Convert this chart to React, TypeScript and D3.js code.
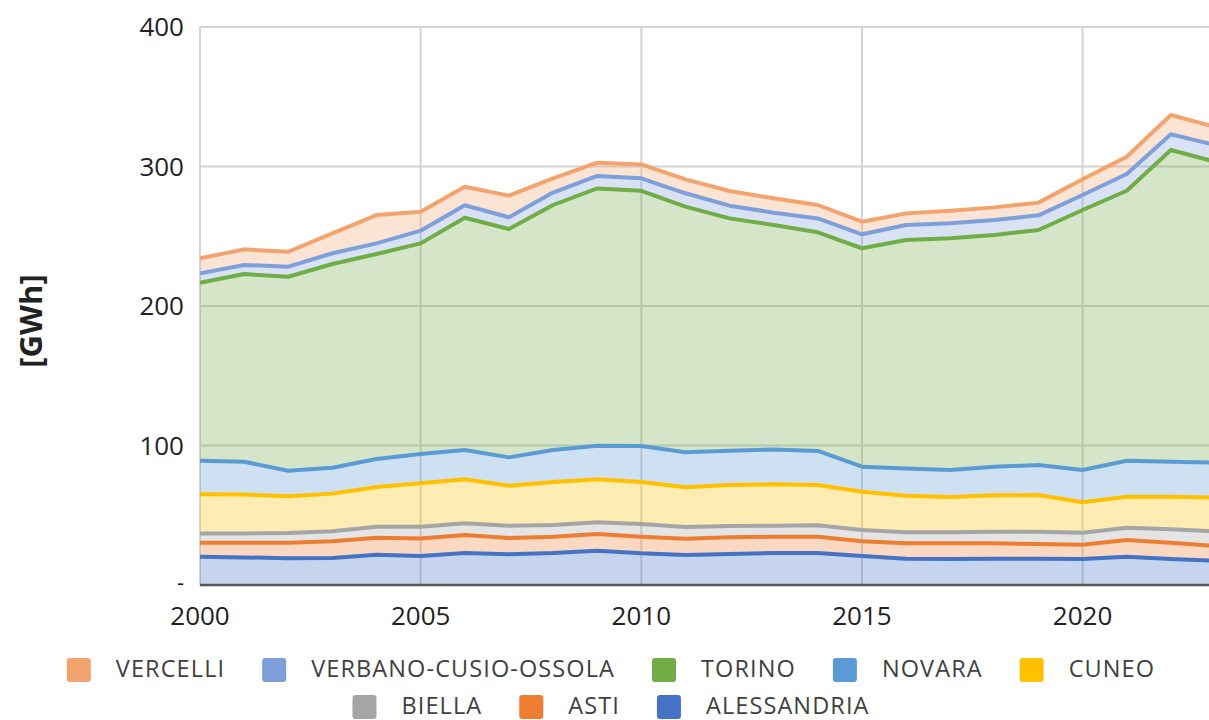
import React, { useEffect, useRef } from 'react';
import * as d3 from 'd3';

// values, GWh per province
const years = [2000, 2001, 2002, 2003, 2004, 2005, 2006, 2007, 2008, 2009, 2010, 2011,
  2012, 2013, 2014, 2015, 2016, 2017, 2018, 2019, 2020, 2021, 2022, 2023];

const alessandria = [20.3, 19.8, 19.1, 19.4, 21.7, 20.8, 22.9, 22.0, 22.9, 24.6, 22.7, 21.5,
  22.2, 22.9, 22.9, 20.8, 18.9, 18.6, 18.9, 18.9, 18.6, 20.3, 18.6, 17.5];
const asti = [10.0, 10.5, 11.2, 11.9, 12.2, 12.6, 12.9, 11.7, 11.7, 12.0, 11.9, 11.7,
  12.0, 11.7, 11.7, 10.5, 11.0, 11.3, 11.0, 10.5, 10.3, 12.0, 11.7, 10.6];
const biella = [6.7, 6.7, 7.0, 7.2, 7.9, 8.4, 8.4, 8.8, 8.4, 8.3, 9.1, 8.4,
  8.1, 7.9, 8.2, 8.1, 7.9, 7.9, 8.3, 8.8, 8.6, 8.8, 9.6, 10.4];
const cuneo = [28.0, 27.8, 26.3, 27.0, 28.5, 31.1, 31.6, 28.7, 30.8, 30.9, 30.1, 28.4,
  29.4, 29.7, 28.9, 27.5, 26.2, 25.3, 26.1, 26.3, 21.8, 22.2, 23.4, 24.2];
const novara = [24.0, 23.6, 18.3, 18.6, 20.0, 21.0, 21.0, 20.3, 23.0, 24.1, 25.8, 25.1,
  24.6, 25.0, 24.4, 17.9, 19.6, 19.3, 20.5, 21.5, 23.1, 25.8, 25.1, 25.1];
const torino = [127.7, 134.5, 139.1, 146.0, 147.0, 151.0, 166.5, 163.7, 175.6, 184.4, 183.0, 176.1,
  166.5, 160.9, 156.7, 156.6, 163.7, 166.1, 166.1, 168.5, 186.4, 193.5, 223.4, 215.6];
const vco = [6.7, 6.5, 7.2, 7.7, 7.6, 9.1, 8.9, 8.4, 8.9, 8.9, 8.9, 9.6,
  9.1, 8.8, 10.0, 10.0, 10.8, 10.8, 10.7, 10.5, 10.8, 12.0, 11.3, 12.0];
const vercelli = [10.8, 11.2, 10.7, 14.3, 20.3, 13.6, 13.3, 15.5, 10.2, 9.5, 10.0, 10.0,
  10.5, 10.3, 9.6, 9.0, 8.3, 9.0, 9.1, 9.1, 11.2, 12.4, 13.8, 13.0];

const xTicks = [2000, 2005, 2010, 2015, 2020];
const yTicks = [0, 100, 200, 300, 400];

// stacking order, bottom to top
const series = [
  { key: 'ALESSANDRIA', values: alessandria, color: '#4472C4' },
  { key: 'ASTI', values: asti, color: '#ED7D31' },
  { key: 'BIELLA', values: biella, color: '#A5A5A5' },
  { key: 'CUNEO', values: cuneo, color: '#FFC000' },
  { key: 'NOVARA', values: novara, color: '#5B9BD5' },
  { key: 'TORINO', values: torino, color: '#70AD47' },
  { key: 'VERBANO-CUSIO-OSSOLA', values: vco, color: '#7F9FDA' },
  { key: 'VERCELLI', values: vercelli, color: '#F3A46E' }
];

const legendRows = [
  ['VERCELLI', 'VERBANO-CUSIO-OSSOLA', 'TORINO', 'NOVARA', 'CUNEO'],
  ['BIELLA', 'ASTI', 'ALESSANDRIA']
];

const FONT = '"Open Sans", "Noto Sans", sans-serif';

export default function App() {
  const ref = useRef<SVGSVGElement>(null);

  useEffect(() => {
    const svg = d3.select(ref.current);
    svg.selectAll('*').remove();

    const x = d3.scaleLinear().domain([2000, 2023]).range([200, 1215]);
    const y = d3.scaleLinear().domain([0, 400]).range([585, 27]);

    const rows = years.map((yr, i) => {
      const r: any = { year: yr };
      series.forEach(s => { r[s.key] = s.values[i]; });
      return r;
    });
    const stacked = d3.stack().keys(series.map(s => s.key))(rows);

    // grid
    const grid = svg.append('g');
    grid.selectAll('line.h')
      .data(yTicks.filter(v => v > 0))
      .join('line')
      .attr('x1', x(2000)).attr('x2', x(2023))
      .attr('y1', d => y(d)).attr('y2', d => y(d))
      .attr('stroke', '#d4d4d4').attr('stroke-width', 2);
    grid.selectAll('line.v')
      .data(xTicks)
      .join('line')
      .attr('x1', d => x(d)).attr('x2', d => x(d))
      .attr('y1', y(400)).attr('y2', y(0))
      .attr('stroke', '#d4d4d4').attr('stroke-width', 2);

    const area = d3.area<any>()
      .x(d => x(d.data.year))
      .y0(d => y(d[0]))
      .y1(d => y(d[1]));
    const line = d3.line<any>()
      .x(d => x(d.data.year))
      .y(d => y(d[1]));

    svg.append('g')
      .selectAll('path')
      .data(stacked)
      .join('path')
      .attr('d', area)
      .attr('fill', (d, i) => series[i].color)
      .attr('fill-opacity', 0.3);

    svg.append('g')
      .selectAll('path')
      .data(stacked)
      .join('path')
      .attr('d', line)
      .attr('fill', 'none')
      .attr('stroke', (d, i) => series[i].color)
      .attr('stroke-width', 4)
      .attr('stroke-linejoin', 'round');

    // x axis line
    svg.append('line')
      .attr('x1', x(2000)).attr('x2', x(2023))
      .attr('y1', y(0)).attr('y2', y(0))
      .attr('stroke', '#555').attr('stroke-width', 2.5);

    // tick labels (zero shown as a dash, accounting style)
    svg.append('g')
      .selectAll('text')
      .data(yTicks)
      .join('text')
      .attr('x', 184)
      .attr('y', d => (d === 0 ? y(d) + 5 : y(d) + 9))
      .attr('text-anchor', 'end')
      .attr('font-family', FONT)
      .attr('font-size', d => (d === 0 ? 22 : 26))
      .attr('fill', '#222')
      .text(d => (d === 0 ? '-' : String(d)));

    svg.append('g')
      .selectAll('text')
      .data(xTicks)
      .join('text')
      .attr('x', d => x(d))
      .attr('y', 625)
      .attr('text-anchor', 'middle')
      .attr('font-family', FONT)
      .attr('font-size', 26)
      .attr('fill', '#222')
      .text(d => String(d));

    svg.append('text')
      .attr('transform', 'translate(30,321) rotate(-90)')
      .attr('text-anchor', 'middle')
      .attr('dominant-baseline', 'central')
      .attr('font-family', FONT)
      .attr('font-weight', 'bold')
      .attr('font-size', 31)
      .attr('fill', '#222')
      .text('[GWh]');

    // legend, two centred rows
    const colorOf = (k: string) => series.find(s => s.key === k)!.color;
    const baselines = [677, 714];
    const box = 24, gapText = 25, gapItem = 37, center = 611;
    legendRows.forEach((keys, r) => {
      const g = svg.append('g');
      const items = keys.map(k => {
        const it = g.append('g');
        it.append('rect')
          .attr('x', 0).attr('y', baselines[r] - 19)
          .attr('width', box).attr('height', box)
          .attr('rx', 3)
          .attr('fill', colorOf(k));
        const t = it.append('text')
          .attr('x', box + gapText)
          .attr('y', baselines[r])
          .attr('font-family', FONT)
          .attr('font-size', 23.5)
          .attr('letter-spacing', 1.1)
          .attr('fill', '#404040')
          .text(k);
        const w = (t.node() as SVGTextElement).getComputedTextLength();
        return { it, w: box + gapText + w };
      });
      const total = d3.sum(items, d => d.w) + gapItem * (items.length - 1);
      let cx = center - total / 2;
      items.forEach(d => {
        d.it.attr('transform', `translate(${cx},0)`);
        cx += d.w + gapItem;
      });
    });
  }, []);

  return (
    <svg
      ref={ref}
      width={1209}
      height={720}
      style={{ position: 'absolute', left: 0, top: 0, background: '#fff' }}
    />
  );
}
